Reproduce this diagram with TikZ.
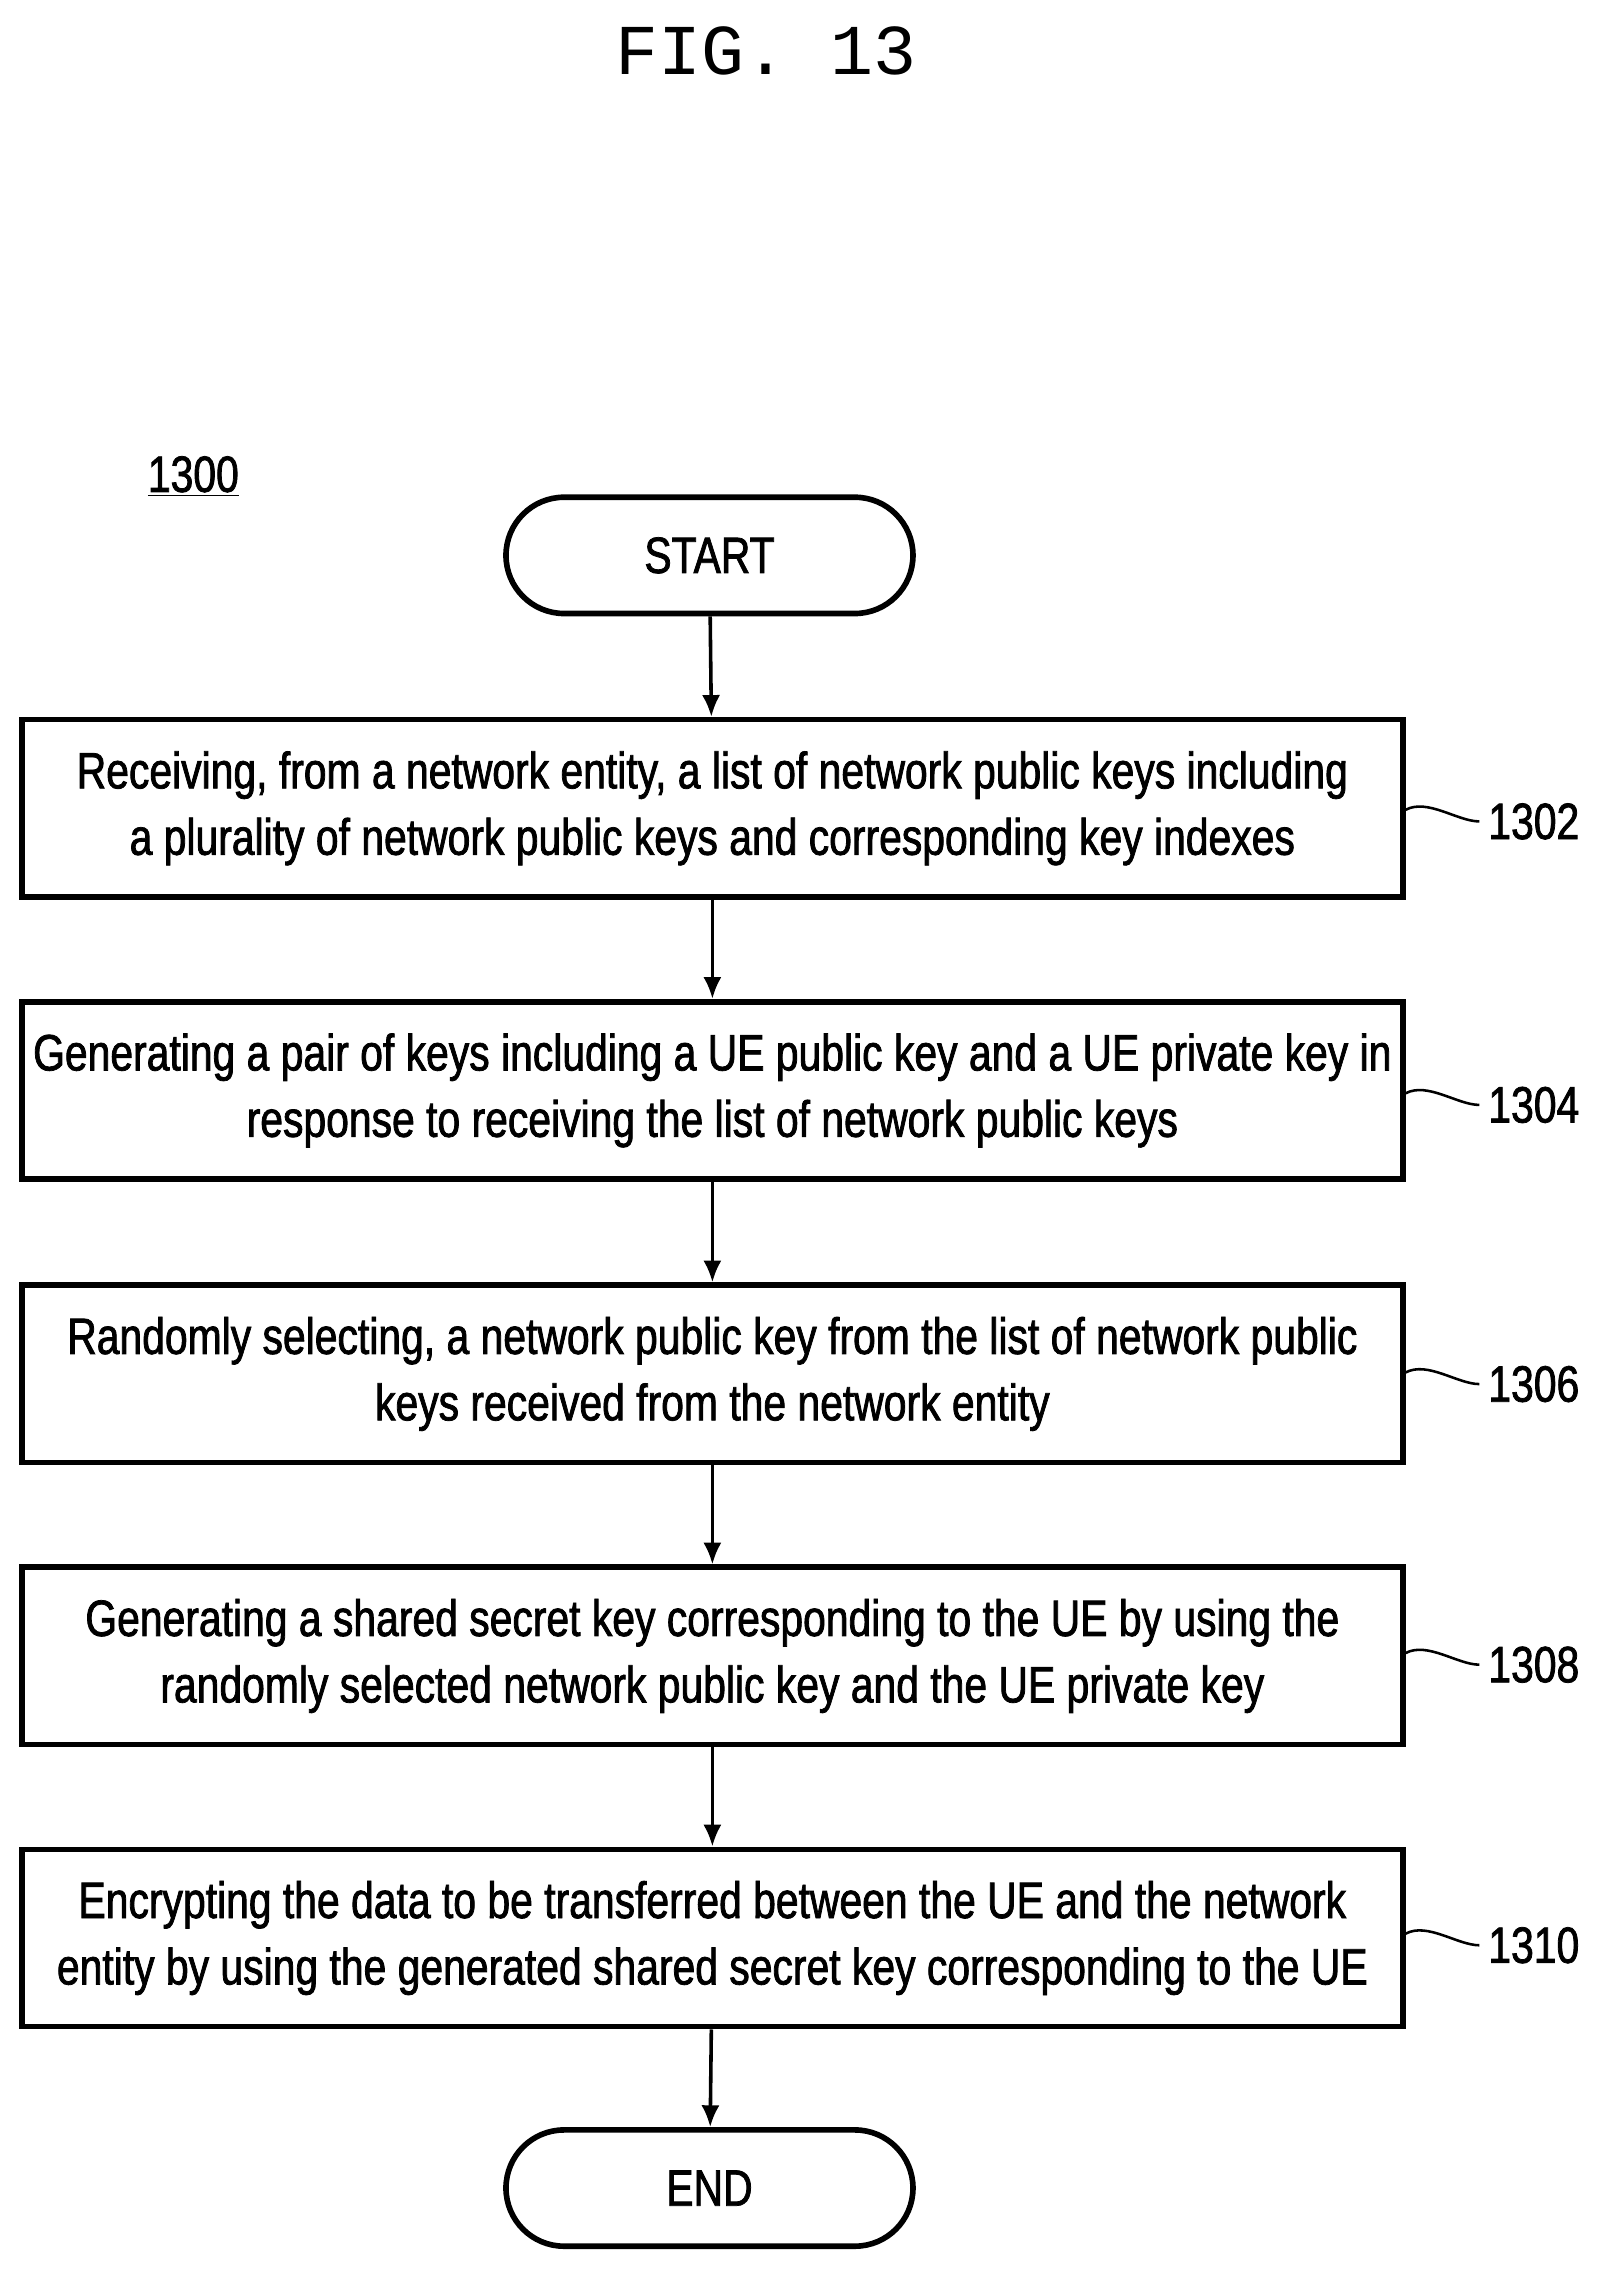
\documentclass[tikz,border=0pt]{standalone}
\usepackage{fontspec}
\setmainfont{Liberation Sans}
\newfontfamily\figfont[FakeStretch=0.8,FakeBold=1.5]{Liberation Sans}
\newfontfamily\titlefont{Liberation Mono}
\usetikzlibrary{arrows.meta}
\usetikzlibrary{positioning}

\tikzset{
  stepbox/.style={draw,line width=2.2pt,minimum width=19cm,minimum height=2.44cm,
    align=center,font=\figfont\fontsize{20}{26}\selectfont},
  termbox/.style={draw,line width=2.2pt,rounded corners=0.8cm,minimum width=5.6cm,
    minimum height=1.6cm,font=\figfont\fontsize{20}{24}\selectfont},
  steplabel/.style={font=\figfont\fontsize{20}{24}\selectfont},
  flow/.style={-{Latex[length=3mm,width=2.5mm]},line width=1.4pt}
}

\begin{document}
\begin{tikzpicture}[x=0.02cm,y=-0.02cm]
            \useasboundingbox (0,0) rectangle (1100,1571);
            \node[font=\titlefont\fontsize{28}{32}\selectfont] (title) at (527,35) {FIG. 13};
            \node[steplabel] (fig) at (133,328) {\underline{1300}};

            \node[termbox] (start) at (488,382) {START};
            \node[stepbox] (s1302) at (490,556) {Receiving, from a network entity, a list of network public keys including\\a plurality of network public keys and corresponding key indexes};
            \node[stepbox] (s1304) at (490,750) {Generating a pair of keys including a UE public key and a UE private key in\\response to receiving the list of network public keys};
            \node[stepbox] (s1306) at (490,945) {Randomly selecting, a network public key from the list of network public\\keys received from the network entity};
            \node[stepbox] (s1308) at (490,1139) {Generating a shared secret key corresponding to the UE by using the\\randomly selected network public key and the UE private key};
            \node[stepbox] (s1310) at (490,1333) {Encrypting the data to be transferred between the UE and the network\\entity by using the generated shared secret key corresponding to the UE};
            \node[termbox] (end) at (488,1505) {END};

            \draw[flow] (start) -- (s1302);
            \draw[flow] (s1302) -- (s1304);
            \draw[flow] (s1304) -- (s1306);
            \draw[flow] (s1306) -- (s1308);
            \draw[flow] (s1308) -- (s1310);
            \draw[flow] (s1310) -- (end);

            % reference numerals
            \foreach \n/\y in {1302/565,1304/760,1306/952,1308/1145,1310/1338} {
              \node[steplabel] (l\n) at (1055,\y) {\n};
              \draw[line width=1pt] (s\n.east |- l\n.west) ++(0,-8)
                .. controls +(15,-8) and +(-15,0) .. (l\n.west);
            }
\end{tikzpicture}
\end{document}
